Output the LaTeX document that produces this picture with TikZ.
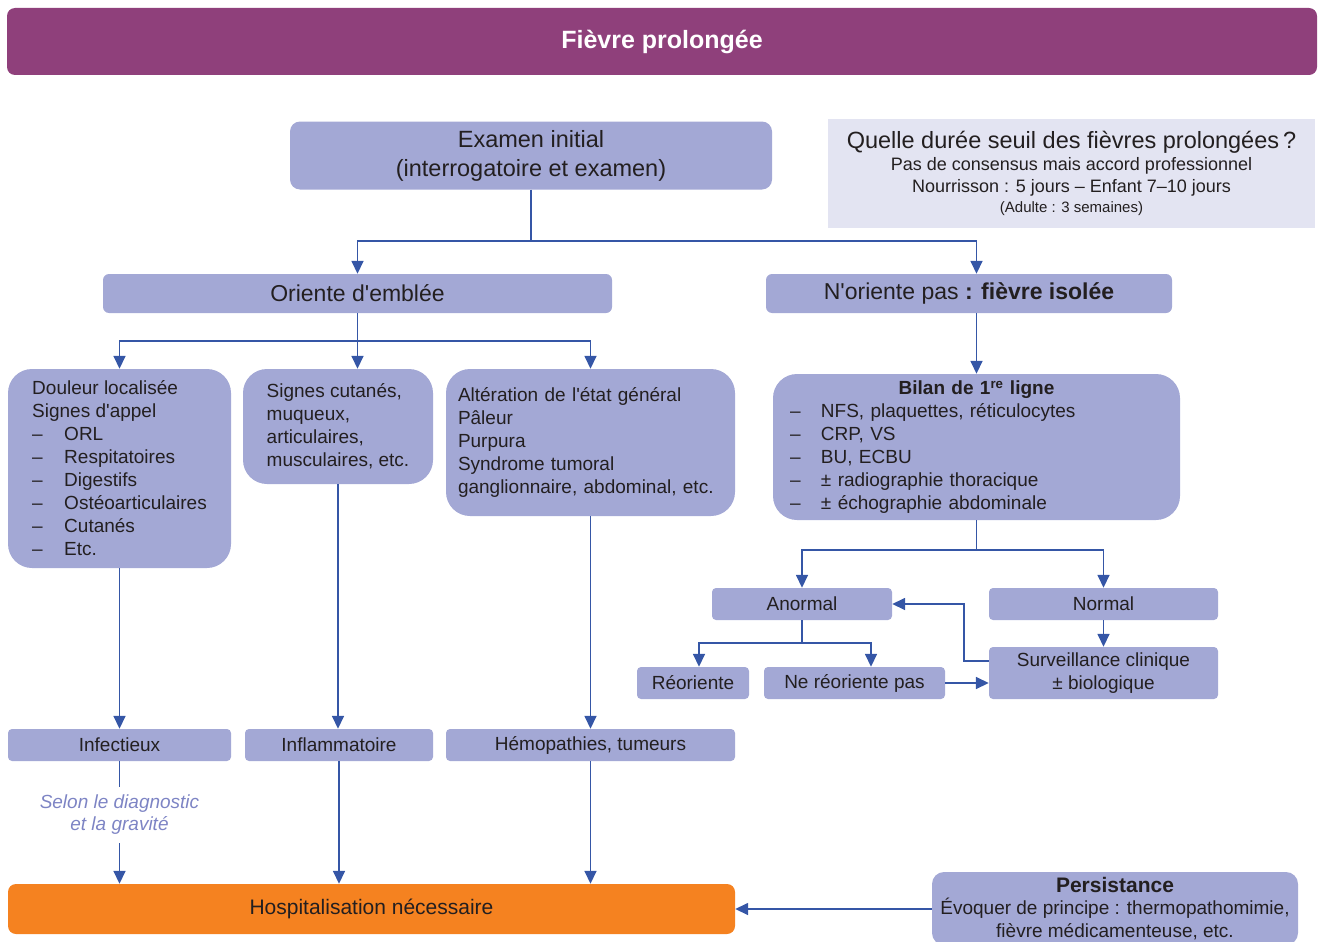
\documentclass[tikz,border=0pt]{standalone}
\usepackage{fontspec}
\setmainfont{Liberation Sans}
\usepackage{tikz}
\usetikzlibrary{arrows.meta}
\usetikzlibrary{shapes}

\definecolor{headcol}{RGB}{143,64,123}
\definecolor{boxcol}{RGB}{163,168,213}
\definecolor{infocol}{RGB}{227,228,242}
\definecolor{linkcol}{RGB}{53,86,166}
\definecolor{hospcol}{RGB}{245,130,32}
\definecolor{txtcol}{RGB}{35,31,32}
\definecolor{notecol}{RGB}{125,132,196}

\newcommand{\fsz}[2]{\fontsize{#1}{#2}\selectfont}
\newcommand{\dashitem}[1]{\makebox[32pt][l]{–}#1}
\newcommand{\dashitemb}[1]{\makebox[31pt][l]{–}#1}
\newcommand{\ap}{\textquotesingle}

\tikzset{
  stage/.style={rectangle, rounded corners=4pt, fill=boxcol, text=txtcol, inner sep=0pt, font=\fsz{19}{23}},
  bigstage/.style={stage, rounded corners=24pt},
  link/.style={draw=linkcol, line width=1.6pt},
  arr/.style={link, -{Triangle[length=13pt,width=12pt]}}
}

\begin{document}
\begin{tikzpicture}[x=1pt, y=-1pt]
\useasboundingbox (0,0) rectangle (1323,942);
%%% title %%%

      \node[rectangle, rounded corners=8pt, fill=headcol, text=white, minimum width=1310, minimum height=67, font=\fsz{25}{30}\bfseries] (title) at (662,41.5) {Fièvre prolongée};
      %%
      \node[stage, rounded corners=10pt, minimum width=482, minimum height=68, align=center, font=\fsz{23.5}{29}] (exam) at (531,155.5) {Examen initial\\(interrogatoire et examen)};
      %
      \node[rectangle, fill=infocol, text=txtcol, inner sep=0pt, minimum width=487, minimum height=109, align=center, font=\fsz{18}{22}] (info) at (1071.5,173.5)
        {{\fsz{23.5}{24}Quelle durée seuil des fièvres prolongées\,?}\\
         Pas de consensus mais accord professionnel\\
         Nourrisson : 5 jours – Enfant 7–10 jours\\[-2pt]
         {\fsz{15}{18}(Adulte : 3 semaines)}};
      %% second row
      \node[stage, rounded corners=6pt, minimum width=509, minimum height=39, font=\fsz{23}{29}] (oriente) at (357.5,293.5) {Oriente d\ap emblée};
      \node[stage, rounded corners=6pt, minimum width=406, minimum height=39, font=\fsz{23}{29}] (noriente) at (969,293.5) {N\ap oriente pas \textbf{: fièvre isolée}};
      %% third row
      \node[bigstage, minimum width=223, minimum height=199, align=left] (douleur) at (119.5,468.5)
        {Douleur localisée\\Signes d\ap appel\\\dashitem{ORL}\\\dashitem{Respitatoires}\\\dashitem{Digestifs}\\\dashitem{Ostéoarticulaires}\\\dashitem{Cutanés}\\\dashitem{Etc.}};
      \node[bigstage, minimum width=190, minimum height=115, align=left] (signes) at (338,426.5)
        {Signes cutanés,\\muqueux,\\articulaires,\\musculaires, etc.};
      \node[bigstage, inner xsep=12pt, text width=265pt, minimum height=147, align=left] (alter) at (590.5,442.5)
        {Altération de l\ap état général\\Pâleur\\Purpura\\Syndrome tumoral\\ganglionnaire, abdominal, etc.};
      \node[bigstage, inner xsep=17pt, text width=373pt, minimum height=146, align=left] (bilan) at (976.5,447)
        {\makebox[373pt]{\textbf{Bilan de 1\textsuperscript{re} ligne}}\\
         \dashitemb{NFS, plaquettes, réticulocytes}\\\dashitemb{CRP, VS}\\\dashitemb{BU, ECBU}\\
         \dashitemb{± radiographie thoracique}\\\dashitemb{± échographie abdominale}};
      %% right branch
      \node[stage, minimum width=180, minimum height=32] (anormal) at (802,604) {Anormal};
      \node[stage, minimum width=229, minimum height=32] (normal) at (1103.5,604) {Normal};
      \node[stage, minimum width=112, minimum height=32] (reor) at (693,683) {Réoriente};
      \node[stage, minimum width=181, minimum height=32] (nereor) at (854.5,683) {Ne réoriente pas};
      \node[stage, minimum width=229, minimum height=52, align=center] (surv) at (1103.5,673) {Surveillance clinique\\± biologique};
      %% fourth row
      \node[stage, minimum width=223, minimum height=32] (infect) at (119.5,745) {Infectieux};
      \node[stage, minimum width=188, minimum height=32] (inflam) at (339,745) {Inflammatoire};
      \node[stage, minimum width=289, minimum height=32] (hemo) at (590.5,745) {Hémopathies, tumeurs};
      \node[text=notecol, inner xsep=0pt, inner ysep=8pt, align=center, font=\fsz{19}{22}\itshape] (note) at (119.5,815) {Selon le diagnostic\\et la gravité};
      %% bottom
      \node[stage, rounded corners=8pt, fill=hospcol, minimum width=727, minimum height=50, font=\fsz{21}{25}] (hosp) at (371.5,909) {Hospitalisation nécessaire};
      \node[stage, rounded corners=12pt, minimum width=366, minimum height=73, align=center, font=\fsz{19}{22.5}] (persist) at (1115,908.5)
        {{\fsz{21}{23}\bfseries Persistance}\\Évoquer de principe : thermopathomimie,\\fièvre médicamenteuse, etc.};

      %%% connectors %%%
      \coordinate (j1) at (531,241);
      \coordinate (j2) at (357.5,341);
      \coordinate (j3) at (976.5,550);
      \coordinate (j4) at (802,643);
      \coordinate (k1) at (964,661);
      %
      \draw[link] (exam.south) -- (j1);
      \draw[arr] (j1) -| (oriente.north);
      \draw[arr] (j1) -| (bilan.north |- noriente.north);
      %
      \draw[link] (oriente.south) -- (j2);
      \draw[arr] (j2) -| (douleur.north);
      \draw[arr] (j2) -- (j2 |- signes.north);
      \draw[arr] (j2) -| (alter.north);
      \draw[arr] (bilan.north |- noriente.south) -- (bilan.north);
      %
      \draw[link] (bilan.south) -- (j3);
      \draw[arr] (j3) -| (anormal.north);
      \draw[arr] (j3) -| (normal.north);
      \draw[link] (anormal.south) -- (j4);
      \draw[arr] (j4) -| ([xshift=6pt]reor.north);
      \draw[arr] (j4) -| ([xshift=16.5pt]nereor.north);
      \draw[arr] (normal.south) -- (surv.north);
      \draw[arr] (nereor.east) -- (surv.west |- nereor.east);
      \draw[arr] (surv.west |- k1) -- (k1) |- (anormal.east);
      %
      \draw[arr] (douleur.south) -- (infect.north);
      \draw[arr] (signes.south) -- (signes.south |- inflam.north);
      \draw[arr] (alter.south) -- (hemo.north);
      \draw[link] (infect.south) -- (note.north);
      \draw[arr] (note.south) -- (infect.south |- hosp.north);
      \draw[arr] (inflam.south) -- (inflam.south |- hosp.north);
      \draw[arr] (hemo.south) -- (hemo.south |- hosp.north);
      \draw[arr] (persist.west |- hosp.east) -- (hosp.east);

\end{tikzpicture}
\end{document}
